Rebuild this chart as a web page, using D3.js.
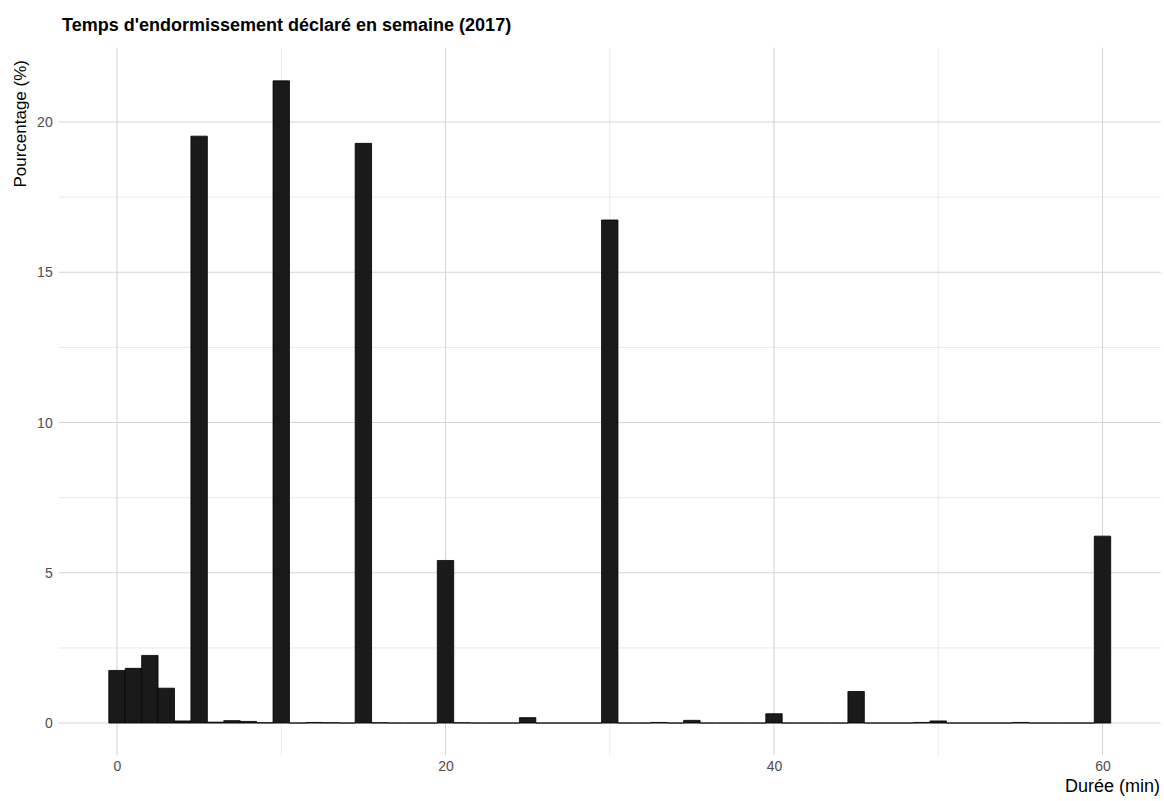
<!DOCTYPE html>
<html>
<head>
<meta charset="utf-8">
<script src="https://cdn.jsdelivr.net/npm/d3@7"></script>
<style>
  html, body { margin: 0; padding: 0; background: #fff; }
  svg { display: block; }
  text { font-family: "Liberation Sans", Arial, sans-serif; }
</style>
</head>
<body>
<svg id="chart" width="1164" height="801"></svg>
<script>
// ---- data ----
const durations = d3.range(0, 61);
const percentages = [
  1.75, 1.82, 2.25, 1.16, 0.07, 19.53, 0.03, 0.08, 0.055, 0.01,
  21.37, 0, 0.02, 0.01, 0, 19.29, 0.01, 0, 0, 0,
  5.41, 0.01, 0, 0, 0, 0.18, 0, 0, 0, 0,
  16.74, 0, 0, 0.02, 0, 0.09, 0, 0, 0, 0,
  0.31, 0, 0, 0, 0, 1.05, 0, 0, 0, 0.02,
  0.07, 0, 0, 0, 0, 0.02, 0, 0, 0, 0,
  6.22
];
const xTicks = [0, 20, 40, 60];
const xMinor = [10, 30, 50];
const yTicks = [0, 5, 10, 15, 20];
const yMinor = [2.5, 7.5, 12.5, 17.5];
const titleText = "Temps d'endormissement déclaré en semaine (2017)";
const xLabel = "Durée (min)";
const yLabel = "Pourcentage (%)";

// ---- layout ----
const svg = d3.select("#chart");
const x = d3.scaleLinear().domain([-3.55, 63.55]).range([58.7, 1160.8]);
const y = d3.scaleLinear().domain([-1.07, 22.47]).range([755.2, 47.8]);

const grid = svg.append("g");
grid.selectAll(".ymin").data(yMinor).join("line")
  .attr("x1", x.range()[0]).attr("x2", x.range()[1])
  .attr("y1", d => y(d)).attr("y2", d => y(d))
  .attr("stroke", "#e0e0e0").attr("stroke-width", 0.7);
grid.selectAll(".xmin").data(xMinor).join("line")
  .attr("y1", y.range()[0]).attr("y2", y.range()[1])
  .attr("x1", d => x(d)).attr("x2", d => x(d))
  .attr("stroke", "#e0e0e0").attr("stroke-width", 0.7);
grid.selectAll(".ymaj").data(yTicks).join("line")
  .attr("x1", x.range()[0]).attr("x2", x.range()[1])
  .attr("y1", d => y(d)).attr("y2", d => y(d))
  .attr("stroke", "#d4d4d4").attr("stroke-width", 1.1);
grid.selectAll(".xmaj").data(xTicks).join("line")
  .attr("y1", y.range()[0]).attr("y2", y.range()[1])
  .attr("x1", d => x(d)).attr("x2", d => x(d))
  .attr("stroke", "#d4d4d4").attr("stroke-width", 1.1);

// bars (paths so that zero-height bars still show their outline)
svg.append("g").selectAll("path").data(durations).join("path")
  .attr("d", (d, i) => {
    const x0 = x(d - 0.5), x1 = x(d + 0.5), y0 = y(0), y1 = y(percentages[i]);
    return `M${x0},${y0}H${x1}V${y1}H${x0}Z`;
  })
  .attr("fill", "#1a1a1a")
  .attr("stroke", "#000")
  .attr("stroke-width", 0.8);

// axes (ticks as text only)
const xAxis = d3.axisBottom(x).tickValues(xTicks).tickSize(0).tickPadding(0);
const gx = svg.append("g").attr("transform", `translate(0,${y.range()[0] + 4})`).call(xAxis);
gx.select(".domain").remove();
gx.attr("font-family", null);
gx.selectAll("text").attr("fill", "#4d4d4d").attr("font-size", 14).attr("dy", "0.85em");

const yAxis = d3.axisLeft(y).tickValues(yTicks).tickSize(0).tickPadding(0);
const gy = svg.append("g").attr("transform", `translate(${x.range()[0] - 6},0)`).call(yAxis);
gy.select(".domain").remove();
gy.attr("font-family", null);
gy.selectAll("text").attr("fill", "#4d4d4d").attr("font-size", 14);

// titles
svg.append("text").attr("x", 62).attr("y", 31)
  .attr("font-size", 18).attr("font-weight", "bold").attr("fill", "#000")
  .text(titleText);
svg.append("text").attr("x", 1160).attr("y", 792).attr("text-anchor", "end")
  .attr("font-size", 18).attr("fill", "#000").text(xLabel);
svg.append("text").attr("transform", "translate(26,60) rotate(-90)")
  .attr("text-anchor", "end").attr("font-size", 17).attr("fill", "#000").text(yLabel);
</script>
</body>
</html>
